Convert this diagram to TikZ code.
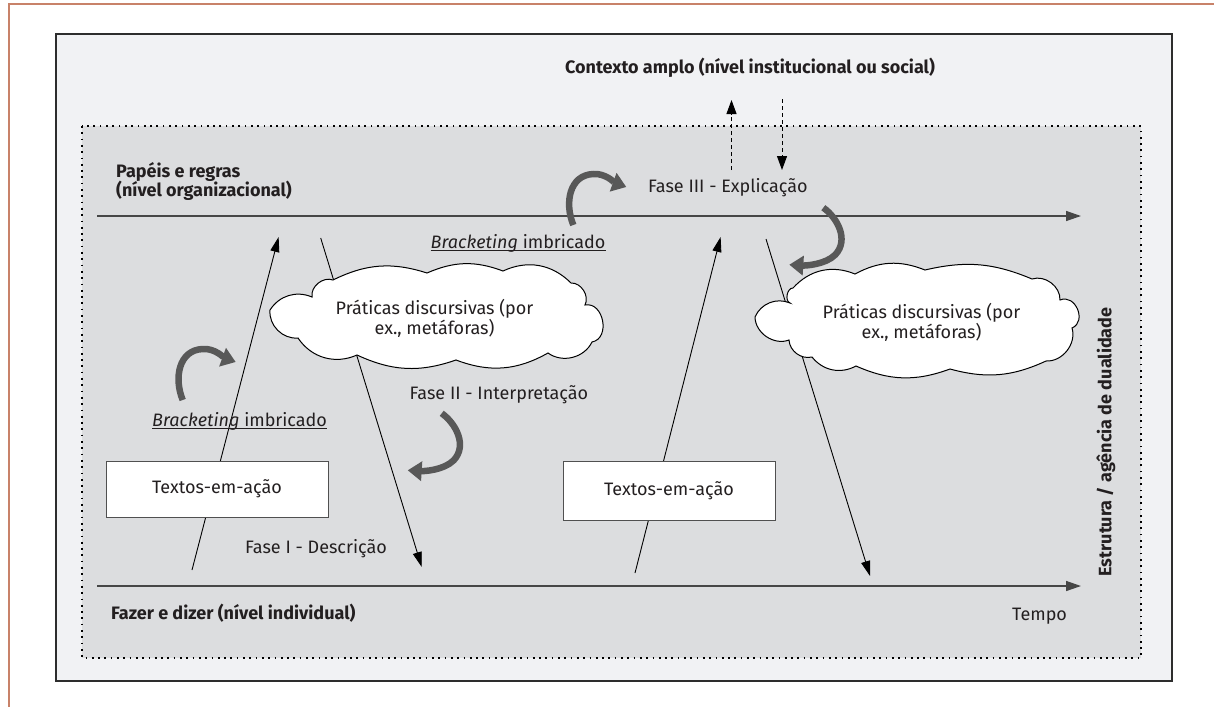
\documentclass[tikz,border=0pt]{standalone}
\usepackage{fontspec}
\setmainfont{Fira Sans}
\usetikzlibrary{arrows.meta}
\definecolor{framebr}{RGB}{200,130,105}
\definecolor{boxbg}{RGB}{241,242,244}
\definecolor{innerbg}{RGB}{220,221,223}
\definecolor{outc}{RGB}{45,45,45}
\definecolor{axisc}{RGB}{70,70,70}
\definecolor{curvc}{RGB}{88,88,88}
\definecolor{boxc}{RGB}{80,80,80}
\definecolor{txt}{RGB}{35,31,32}
\begin{document}
\begin{tikzpicture}[x=1pt,y=-1pt,
  lbl/.style={inner sep=0pt, text=txt, font=\fontsize{18}{20}\selectfont},
  blbl/.style={inner sep=0pt, text=txt, font=\fontsize{18}{20}\selectfont\bfseries},
  axisarrow/.style={draw=axisc, line width=1.4pt, -{Triangle[length=15pt,width=10pt]}},
  thinarrow/.style={draw=black, line width=0.9pt, -{Triangle[length=15pt,width=9pt]}},
  dasharrow/.style={draw=black, line width=1pt, dash pattern=on 4pt off 3pt, -{Triangle[length=14pt,width=10pt]}},
  curvearrow/.style={draw=curvc, line width=6.5pt, -{Triangle[length=14pt,width=19pt]}},
  dotborder/.style={draw=black, line width=1.9pt, dash pattern=on 1.7pt off 4.6pt},
  cloudfill/.style={fill=white, draw=black, line width=1pt},
  textbox/.style={draw=boxc, fill=white, line width=1pt, minimum width=222pt, minimum height=56pt, inner sep=0pt, text=txt, font=\fontsize{18}{20}\selectfont}
]
\useasboundingbox (0,0) rectangle (1214,707);

% page frame
\draw[framebr, line width=1.3pt] (1214,4) -- (9,4) -- (9,707);

% outer and inner regions
\draw[fill=boxbg, draw=outc, line width=1.4pt] (56,34) rectangle (1172,681);
\path[fill=innerbg] (82,126) rectangle (1141,658);
\draw[dotborder] (82,126) rectangle (1141,658);

% time axes
\coordinate (tl) at (97,216);
\coordinate (tr) at (1081,216);
\coordinate (bl) at (97,586);
\coordinate (br) at (1081,586);
\draw[axisarrow] (tl) -- (tr);
\draw[axisarrow] (bl) -- (br);

% thin arrows
\coordinate (a1s) at (192,570);
\coordinate (a1e) at (278.6,237);
\coordinate (d1s) at (320.7,238);
\coordinate (d1e) at (421.7,567);
\coordinate (a2s) at (635,573);
\coordinate (a2e) at (720.6,237);
\coordinate (d2s) at (766,239);
\coordinate (d2e) at (870,576);
\draw[thinarrow] (a1s) -- (a1e);
\draw[thinarrow] (d1s) -- (d1e);
\draw[thinarrow] (a2s) -- (a2e);
\draw[thinarrow] (d2s) -- (d2e);

% text boxes
\node[textbox] (tx1) at (217,489) {Textos-em-ação};
\node[textbox, minimum width=212pt, minimum height=59pt] (tx2) at (669,490.5) {Textos-em-ação};

% clouds
\path[cloudfill] (270,310) to[bend left=40] (312,297) to[bend left=60] (333,280)
  to[bend left=22] (427,273) to[bend left=22] (503,271) to[bend left=35] (571,283)
  to[bend left=60] (585,305) to[bend left=90, looseness=1.3] (592,342)
  to[bend left=50] (548,353) to[bend left=25] (456,360) to[bend left=22] (357,355)
  to[bend left=40] (298,338) to[bend left=50] (270,310) -- cycle;
\path[cloudfill] (755,317) to[bend left=45] (790,303) to[bend left=80] (793,288)
  to[bend left=35] (855,274) to[bend left=25] (925,270) to[bend left=18] (1032,279)
  to[bend left=55] (1060,300) to[bend left=90, looseness=1.4] (1072,328)
  to[bend left=55] (1046,361) to[bend left=20] (950,369) to[bend left=22] (856,366)
  to[bend left=40] (812,357) to[bend left=50] (789,340) to[bend left=55] (755,317) -- cycle;
\node[lbl, anchor=base] (c1a) at (434.5,314) {Práticas discursivas (por};
\node[lbl, anchor=base] (c1b) at (434.5,334) {ex., metáforas)};
\node[lbl, anchor=base] (c2a) at (921.5,318) {Práticas discursivas (por};
\node[lbl, anchor=base] (c2b) at (921.5,338) {ex., metáforas)};

% dashed arrows to the wider context
\coordinate (up1s) at (731.5,170);
\coordinate (up1e) at (731.5,100);
\coordinate (dn1s) at (782,99);
\coordinate (dn1e) at (782,170);
\draw[dasharrow] (up1s) -- (up1e);
\draw[dasharrow] (dn1s) -- (dn1e);

% thick curved arrows
\begin{scope}[shift={(182.7,400)}]
  \draw[curvearrow] (0,0) .. controls (-9,-22) and (-4,-50) .. (20,-51) .. controls (32,-52) and (42,-42) .. (53,-38);
\end{scope}
\begin{scope}[shift={(573.3,225)}]
  \draw[curvearrow] (0,0) .. controls (-9,-22) and (-4,-50) .. (20,-51) .. controls (32,-52) and (42,-42) .. (53,-38);
\end{scope}
\begin{scope}[shift={(441.7,413.3)}]
  \draw[curvearrow] (0,0) .. controls (14,10) and (26,32) .. (12,47) .. controls (2,57) and (-18,58) .. (-34,57);
\end{scope}
\begin{scope}[shift={(823.3,207.7)}]
  \draw[curvearrow] (0,0) .. controls (14,10) and (26,32) .. (12,47) .. controls (2,57) and (-18,58) .. (-34,57);
\end{scope}

% labels
\node[blbl, anchor=base] (ctx) at (750,73) {Contexto amplo (nível institucional ou social)};
\node[blbl, anchor=base west] (pap1) at (116,177) {Papéis e regras};
\node[blbl, anchor=base west] (pap2) at (116,196) {(nível organizacional)};
\node[lbl, anchor=base west] (f3) at (648,192.5) {Fase III - Explicação};
\node[lbl, anchor=base west] (brA) at (430.5,248) {\textit{Bracketing} imbricado};
\draw[txt, line width=0.8pt] ([yshift=-2pt]brA.base west) -- ([yshift=-2pt]brA.base east);
\node[lbl, anchor=base west] (brB) at (152,426) {\textit{Bracketing} imbricado};
\draw[txt, line width=0.8pt] ([yshift=-2pt]brB.base west) -- ([yshift=-2pt]brB.base east);
\node[lbl, anchor=base west] (f2) at (409.5,399) {Fase II - Interpretação};
\node[lbl, anchor=base west] (f1) at (245,553) {Fase I - Descrição};
\node[blbl, anchor=base west] (fz) at (111,619.5) {Fazer e dizer (nível individual)};
\node[lbl, anchor=base west] (tp) at (1012,620) {Tempo};
\node[blbl, rotate=90] (est) at (1106,442) {Estrutura / agência de dualidade};
\end{tikzpicture}
\end{document}
